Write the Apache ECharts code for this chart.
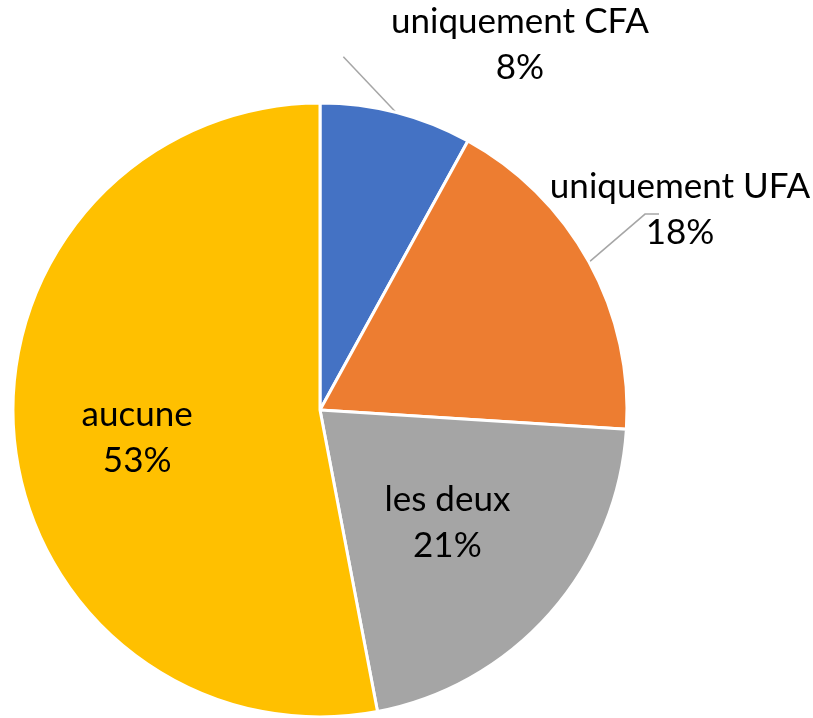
<!DOCTYPE html>
<html>
<head>
<meta charset="utf-8">
<script src="https://cdn.jsdelivr.net/npm/echarts@6/dist/echarts.min.js"></script>
<style>
  html, body { margin: 0; padding: 0; background: #fff; }
  #pie { width: 813px; height: 718px; }
</style>
</head>
<body>
<div id="pie"></div>
<script>
var names = ['uniquement CFA', 'uniquement UFA', 'les deux', 'aucune'];
var values = [8, 18, 21, 53];
var colors = ['#4472C4', '#ED7D31', '#A5A5A5', '#FFC000'];
var outside = [true, true, false, false];

// label adjustments (Excel places things a bit differently)
var labelPos = [
  { x: 520, y: 45 },
  { x: 680, y: 210 },
  { dx: 10, dy: 9 },
  { dx: -27, dy: 13 }
];
var lineEnd = [[-53, -56], [56, -48]];

function drawPie() {
  var myChart = echarts.init(document.getElementById('pie'));
  var option = {
    backgroundColor: '#fff',
    animation: false,
    series: [
      {
        type: 'pie',
        radius: 307,
        center: [320, 410],
        startAngle: 90,
        clockwise: true,
        data: names.map((n, i) => ({
          name: n,
          value: values[i],
          itemStyle: { color: colors[i] },
          label: { position: outside[i] ? 'outside' : 'inside' },
          labelLine: { show: outside[i] }
        })),
        itemStyle: {
          borderColor: '#fff',
          borderWidth: 3
        },
        label: {
          formatter: '{b}\n{d}%',
          fontFamily: 'Lato',
          fontSize: 35,
          lineHeight: 46,
          color: '#000',
          align: 'center',
          overflow: 'none',
          width: 300
        },
        labelLine: {
          length: 20,
          length2: 10,
          lineStyle: { color: '#A6A6A6', width: 1.5 }
        },
        labelLayout: function (params) {
          var i = params.dataIndex;
          var p = labelPos[i];
          if (outside[i]) {
            var p0 = params.labelLinePoints[0];
            var e = lineEnd[i];
            var pts = i === 1
              ? [p0, [p0[0] + e[0], p0[1] + e[1]], [p0[0] + e[0] + 14, p0[1] + e[1]]]
              : [p0, [p0[0] + e[0] / 2, p0[1] + e[1] / 2], [p0[0] + e[0], p0[1] + e[1]]];
            return {
              x: p.x, y: p.y,
              align: 'center', verticalAlign: 'middle',
              width: 300,
              labelLinePoints: pts
            };
          }
          return { dx: p.dx, dy: p.dy };
        }
      }
    ]
  };
  myChart.setOption(option);
}

drawPie();
</script>
</body>
</html>
